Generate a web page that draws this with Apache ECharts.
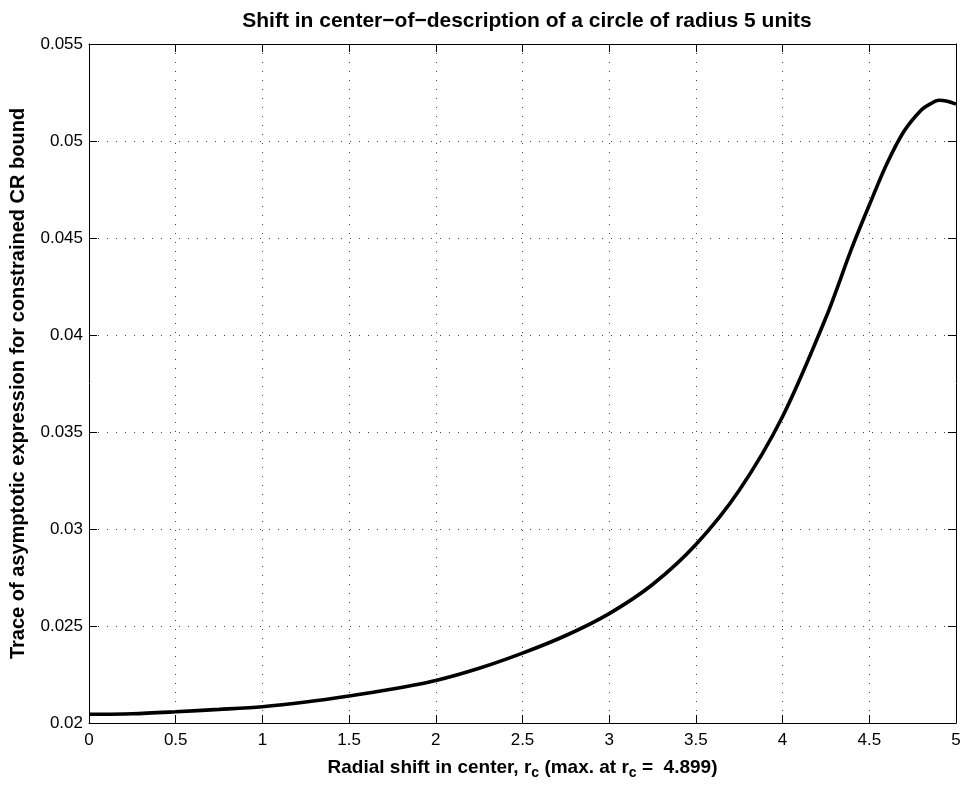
<!DOCTYPE html>
<html>
<head>
<meta charset="utf-8">
<script src="https://cdn.jsdelivr.net/npm/echarts@6/dist/echarts.min.js"></script>
<style>
  html, body { margin: 0; padding: 0; background: #fff; }
  #chart { width: 964px; height: 785px; }
</style>
</head>
<body>
<div id="chart"></div>
<script>
// Radial shift r_c (x) and trace value (y)
const rcValues = [0, 0.25, 0.5, 0.75, 1.0, 1.25, 1.5, 1.75, 2.0, 2.25, 2.5, 2.75, 3.0, 3.25, 3.5, 3.75, 4.0, 4.25, 4.4, 4.5, 4.6, 4.7, 4.8, 4.85, 4.9, 4.95, 5.0];
const traceValues = [0.02045, 0.02048, 0.02058, 0.0207, 0.02084, 0.02108, 0.02139, 0.02175, 0.02219, 0.02282, 0.0236, 0.02451, 0.02564, 0.02714, 0.0292, 0.0320, 0.0358, 0.0409, 0.0445, 0.0467, 0.0488, 0.0505, 0.0516, 0.0519, 0.0521, 0.05205, 0.0519];
const xTicks = [0, 0.5, 1, 1.5, 2, 2.5, 3, 3.5, 4, 4.5, 5];
const yTicks = [0.02, 0.025, 0.03, 0.035, 0.04, 0.045, 0.05, 0.055];

const titleText = 'Shift in center\u2212of\u2212description of a circle of radius 5 units';
const yName = 'Trace of asymptotic expression for constrained CR bound';
const xName = 'Radial shift in center, r{sub|c} (max. at r{sub|c} =  4.899)';

const FONT = '"Liberation Sans", Arial, Helvetica, sans-serif';
const chart = echarts.init(document.getElementById('chart'), null, { renderer: 'canvas' });

function gridLine() { return { show: true, lineStyle: { color: '#444', width: 1, type: [1, 8] } }; }
function tick() { return { show: true, inside: true, length: 8, lineStyle: { color: '#000', width: 1 } }; }
function axLine() { return { show: true, onZero: false, lineStyle: { color: '#000', width: 1 } }; }

const xMin = xTicks[0], xMax = xTicks[xTicks.length - 1];
const yMin = yTicks[0], yMax = yTicks[yTicks.length - 1];

chart.setOption({
  animation: false,
  backgroundColor: '#fff',
  title: {
    text: titleText,
    left: 522, top: 6, textAlign: 'center',
    textStyle: { fontFamily: FONT, fontWeight: 'bold', fontSize: 21, color: '#000' }
  },
  grid: { left: 89, right: 8, top: 44, bottom: 58, show: false, containLabel: false },
  xAxis: [{
    type: 'value', min: xMin, max: xMax, interval: 0.5, position: 'bottom',
    axisLine: axLine(),
    axisTick: tick(),
    splitLine: gridLine(),
    axisLabel: { color: '#000', fontFamily: FONT, fontSize: 17, margin: 9,
      formatter: v => String(+v.toFixed(2)) },
    name: xName, nameLocation: 'middle', nameGap: 32,
    nameTextStyle: { fontFamily: FONT, fontWeight: 'bold', fontSize: 19, color: '#000',
      rich: { sub: { fontFamily: FONT, fontWeight: 'bold', fontSize: 14, color: '#000', verticalAlign: 'bottom', padding: [11, 0, 0, 0] } } }
  }, {
    type: 'value', min: xMin, max: xMax, interval: 0.5, position: 'top',
    axisLine: axLine(),
    axisTick: tick(), splitLine: { show: false }, axisLabel: { show: false }
  }],
  yAxis: [{
    type: 'value', min: yMin, max: yMax, interval: 0.005, position: 'left',
    axisLine: axLine(),
    axisTick: tick(),
    splitLine: gridLine(),
    axisLabel: { color: '#000', fontFamily: FONT, fontSize: 17, margin: 6,
      formatter: v => String(+v.toFixed(3)) },
    name: yName, nameLocation: 'middle', nameGap: 61, nameRotate: 90,
    nameTextStyle: { fontFamily: FONT, fontWeight: 'bold', fontSize: 20, color: '#000' }
  }, {
    type: 'value', min: yMin, max: yMax, interval: 0.005, position: 'right',
    axisLine: axLine(),
    axisTick: tick(), splitLine: { show: false }, axisLabel: { show: false }
  }],
  series: [{
    type: 'line',
    xAxisIndex: 0, yAxisIndex: 0,
    data: rcValues.map((x, i) => [x, traceValues[i]]),
    smooth: 0.3,
    showSymbol: false,
    lineStyle: { color: '#000', width: 3.6 }
  }]
});
</script>
</body>
</html>
